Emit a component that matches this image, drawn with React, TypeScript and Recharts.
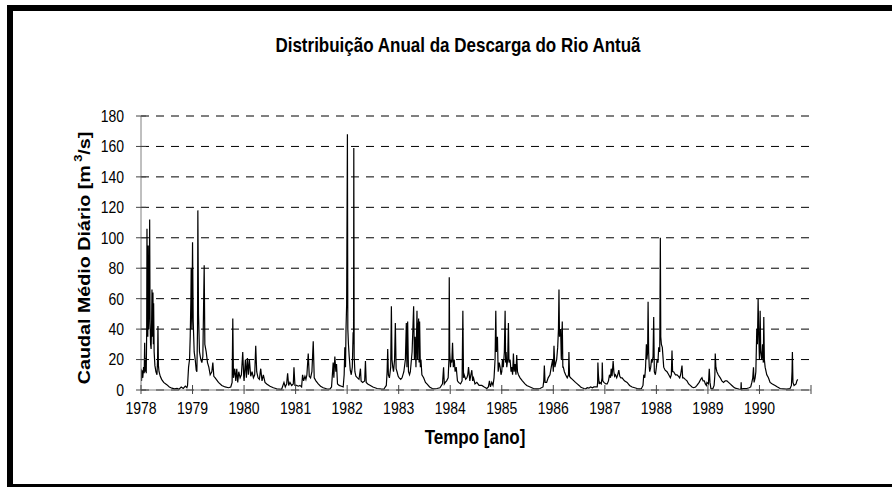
import { LineChart, Line, XAxis, YAxis, CartesianGrid } from 'recharts';

// daily discharge as [year fraction, m3/s]
const y1978 = [
  [1978.0, 14], [1978.01, 6], [1978.02, 13], [1978.035, 8], [1978.05, 15], [1978.062, 11],
  [1978.071, 31], [1978.08, 12], [1978.092, 21], [1978.102, 11], [1978.11, 38], [1978.116, 106],
  [1978.124, 52], [1978.132, 35], [1978.14, 95], [1978.148, 40], [1978.16, 60], [1978.168, 112],
  [1978.176, 45], [1978.186, 30], [1978.196, 27], [1978.206, 45], [1978.213, 66], [1978.222, 35],
  [1978.232, 64], [1978.24, 30], [1978.245, 57], [1978.255, 25], [1978.27, 16], [1978.29, 12],
  [1978.31, 10], [1978.322, 20], [1978.329, 42], [1978.338, 16], [1978.35, 12], [1978.374, 9],
  [1978.4, 7], [1978.44, 5], [1978.5, 3.5], [1978.55, 2], [1978.6, 1.2], [1978.65, 0.8],
  [1978.7, 1], [1978.74, 0.5], [1978.78, 2], [1978.82, 1], [1978.86, 2.5], [1978.89, 1.5],
  [1978.903, 3], [1978.923, 15], [1978.942, 20], [1978.955, 35], [1978.968, 60], [1978.974, 80],
  [1978.987, 40],
];
const y1979 = [
  [1979.0, 97], [1979.013, 45], [1979.032, 25], [1979.052, 20], [1979.071, 13], [1979.084, 12],
  [1979.097, 40], [1979.103, 118], [1979.116, 50], [1979.135, 25], [1979.161, 20], [1979.181, 18],
  [1979.2, 22], [1979.226, 82], [1979.239, 30], [1979.265, 25], [1979.29, 18], [1979.316, 15],
  [1979.342, 10], [1979.374, 12], [1979.394, 18], [1979.413, 9], [1979.439, 8], [1979.503, 5],
  [1979.568, 3], [1979.632, 2], [1979.697, 1.5], [1979.742, 2], [1979.768, 5], [1979.781, 47],
  [1979.794, 8], [1979.819, 14], [1979.839, 6], [1979.858, 14], [1979.877, 5], [1979.897, 12],
  [1979.923, 8], [1979.948, 10], [1979.974, 25], [1979.994, 8],
];
const y1980 = [
  [1980.0, 6], [1980.026, 20], [1980.045, 8], [1980.065, 21], [1980.084, 10], [1980.103, 20],
  [1980.129, 9], [1980.155, 12], [1980.181, 8], [1980.206, 10], [1980.226, 29], [1980.245, 12],
  [1980.271, 8], [1980.297, 7], [1980.323, 14], [1980.348, 6], [1980.374, 10], [1980.406, 5],
  [1980.439, 4], [1980.503, 2.5], [1980.568, 1.5], [1980.632, 0.8], [1980.729, 0.5], [1980.774, 5],
  [1980.8, 2], [1980.826, 4], [1980.845, 11], [1980.865, 3], [1980.89, 5], [1980.923, 3],
  [1980.955, 4], [1980.968, 15], [1980.987, 3],
];
const y1981 = [
  [1981.019, 3], [1981.052, 2.5], [1981.084, 3], [1981.116, 2], [1981.135, 10], [1981.155, 6],
  [1981.181, 9], [1981.2, 7], [1981.219, 10], [1981.245, 24], [1981.265, 9], [1981.29, 8],
  [1981.316, 12], [1981.342, 32], [1981.361, 8], [1981.394, 6], [1981.439, 4], [1981.484, 2.5],
  [1981.535, 1.5], [1981.6, 0.8], [1981.665, 0.6], [1981.697, 2], [1981.729, 18], [1981.742, 8],
  [1981.761, 22], [1981.781, 12], [1981.794, 17], [1981.813, 4], [1981.845, 3], [1981.89, 2.5],
  [1981.923, 2], [1981.942, 10], [1981.955, 28], [1981.968, 15], [1981.978, 40], [1981.99, 56],
];
const y1982 = [
  [1982.005, 168], [1982.013, 40], [1982.025, 30], [1982.04, 22], [1982.06, 13], [1982.08, 10],
  [1982.1, 15], [1982.116, 38], [1982.124, 30], [1982.129, 159], [1982.136, 22], [1982.15, 12],
  [1982.17, 9], [1982.2, 8], [1982.23, 7], [1982.258, 14], [1982.27, 6], [1982.3, 5],
  [1982.34, 6], [1982.355, 19], [1982.37, 5], [1982.4, 4], [1982.45, 3], [1982.5, 2],
  [1982.58, 1], [1982.65, 0.7], [1982.71, 0.5], [1982.76, 3], [1982.775, 12], [1982.787, 27],
  [1982.8, 10], [1982.82, 8], [1982.845, 15], [1982.858, 55], [1982.87, 20], [1982.885, 15],
  [1982.9, 12], [1982.92, 20], [1982.935, 44], [1982.95, 14], [1982.968, 12], [1982.99, 9],
];
const y1983 = [
  [1983.01, 8], [1983.04, 7], [1983.065, 8], [1983.1, 12], [1983.13, 20], [1983.148, 44],
  [1983.16, 15], [1983.174, 45], [1983.19, 12], [1983.21, 10], [1983.226, 12], [1983.26, 25],
  [1983.29, 55], [1983.305, 20], [1983.32, 35], [1983.335, 15], [1983.355, 52], [1983.365, 20],
  [1983.375, 40], [1983.387, 47], [1983.396, 18], [1983.406, 45], [1983.42, 15], [1983.432, 20],
  [1983.45, 10], [1983.484, 8], [1983.52, 5], [1983.548, 4], [1983.6, 2], [1983.65, 1],
  [1983.7, 0.8], [1983.742, 1], [1983.8, 1.5], [1983.85, 4], [1983.871, 15], [1983.885, 4],
  [1983.903, 5], [1983.93, 6], [1983.96, 8], [1983.975, 20], [1983.981, 74], [1983.99, 25],
];
const y1984 = [
  [1984.005, 15], [1984.013, 20], [1984.03, 18], [1984.045, 31], [1984.06, 15], [1984.077, 20],
  [1984.095, 12], [1984.116, 15], [1984.14, 6], [1984.161, 5], [1984.2, 4], [1984.23, 6],
  [1984.245, 52], [1984.258, 8], [1984.271, 10], [1984.3, 7], [1984.323, 8], [1984.34, 10],
  [1984.355, 15], [1984.38, 6], [1984.4, 10], [1984.419, 13], [1984.435, 6], [1984.452, 8],
  [1984.48, 4], [1984.516, 5], [1984.56, 3], [1984.613, 3], [1984.66, 2], [1984.71, 1],
  [1984.74, 2], [1984.761, 6], [1984.78, 2], [1984.806, 5], [1984.83, 3], [1984.85, 8],
  [1984.87, 20], [1984.884, 52], [1984.895, 25], [1984.916, 35], [1984.93, 12], [1984.95, 18],
  [1984.968, 15], [1984.985, 10],
];
const y1985 = [
  [1985.0, 12], [1985.013, 20], [1985.03, 15], [1985.05, 25], [1985.065, 52], [1985.075, 18],
  [1985.085, 25], [1985.097, 15], [1985.115, 20], [1985.129, 44], [1985.14, 18], [1985.161, 20],
  [1985.18, 12], [1985.194, 15], [1985.21, 10], [1985.226, 24], [1985.24, 12], [1985.258, 17],
  [1985.275, 10], [1985.29, 23], [1985.305, 12], [1985.323, 10], [1985.355, 8], [1985.4, 6],
  [1985.45, 4], [1985.484, 3], [1985.55, 2], [1985.613, 1], [1985.68, 0.8], [1985.742, 1],
  [1985.8, 2], [1985.815, 6], [1985.826, 16], [1985.84, 5], [1985.871, 5], [1985.9, 8],
  [1985.935, 10], [1985.96, 15], [1985.987, 20],
];
const y1986 = [
  [1986.0, 12], [1986.013, 29], [1986.03, 15], [1986.05, 18], [1986.065, 20], [1986.085, 28],
  [1986.1, 40], [1986.11, 66], [1986.12, 35], [1986.142, 40], [1986.155, 20], [1986.174, 45],
  [1986.185, 15], [1986.194, 15], [1986.215, 12], [1986.239, 10], [1986.27, 8], [1986.295, 10],
  [1986.303, 25], [1986.315, 9], [1986.335, 8], [1986.37, 7], [1986.4, 6], [1986.43, 5],
  [1986.465, 4], [1986.5, 3], [1986.529, 2], [1986.56, 1.5], [1986.594, 1], [1986.63, 0.8],
  [1986.658, 1.5], [1986.69, 1.2], [1986.723, 2], [1986.76, 1.5], [1986.787, 2], [1986.82, 2],
  [1986.852, 2], [1986.86, 5], [1986.865, 18], [1986.875, 10], [1986.89, 4], [1986.903, 5],
  [1986.93, 4], [1986.945, 8], [1986.95, 18], [1986.96, 6], [1986.981, 5],
];
const y1987 = [
  [1987.02, 4], [1987.045, 4], [1987.07, 6], [1987.09, 10], [1987.11, 8], [1987.123, 14],
  [1987.14, 9], [1987.161, 19], [1987.175, 12], [1987.19, 9], [1987.206, 10], [1987.23, 8],
  [1987.25, 10], [1987.271, 13], [1987.29, 9], [1987.31, 8], [1987.335, 8], [1987.38, 6],
  [1987.432, 5], [1987.48, 3], [1987.529, 2], [1987.58, 1.5], [1987.626, 1], [1987.67, 0.8],
  [1987.71, 1], [1987.74, 3], [1987.755, 10], [1987.775, 8], [1987.79, 15], [1987.806, 30],
  [1987.815, 20], [1987.83, 25], [1987.839, 58], [1987.85, 25], [1987.862, 15], [1987.871, 12],
  [1987.89, 15], [1987.905, 20], [1987.916, 18], [1987.935, 22], [1987.948, 48], [1987.96, 12],
  [1987.981, 10],
];
const y1988 = [
  [1988.0, 15], [1988.013, 20], [1988.03, 18], [1988.045, 28], [1988.065, 25], [1988.077, 100],
  [1988.085, 35], [1988.097, 30], [1988.115, 28], [1988.142, 15], [1988.17, 13], [1988.206, 12],
  [1988.24, 10], [1988.271, 8], [1988.29, 10], [1988.303, 26], [1988.315, 12], [1988.335, 12],
  [1988.37, 10], [1988.4, 10], [1988.43, 9], [1988.452, 8], [1988.47, 10], [1988.497, 16],
  [1988.51, 8], [1988.529, 8], [1988.56, 7], [1988.594, 6], [1988.626, 4], [1988.658, 3],
  [1988.69, 2], [1988.723, 1.5], [1988.76, 2], [1988.787, 3], [1988.83, 5], [1988.86, 7],
  [1988.884, 8], [1988.905, 6], [1988.929, 6], [1988.95, 4], [1988.97, 3], [1988.981, 5],
];
const y1989 = [
  [1989.01, 4], [1989.026, 14], [1989.04, 5], [1989.058, 1], [1989.08, 0.8], [1989.097, 1],
  [1989.12, 3], [1989.135, 10], [1989.142, 24], [1989.155, 15], [1989.174, 12], [1989.2, 10],
  [1989.239, 8], [1989.27, 6], [1989.303, 5], [1989.335, 6], [1989.368, 6], [1989.4, 5],
  [1989.432, 4], [1989.465, 3], [1989.497, 2], [1989.53, 1.2], [1989.561, 1], [1989.6, 0.6],
  [1989.64, 0.4], [1989.645, 5], [1989.65, 0.4], [1989.677, 1], [1989.72, 1], [1989.755, 1],
  [1989.8, 1.5], [1989.83, 2], [1989.852, 5], [1989.87, 8], [1989.884, 15], [1989.895, 5],
  [1989.916, 8], [1989.93, 12], [1989.948, 40], [1989.96, 30], [1989.974, 60], [1989.987, 35],
];
const y1990 = [
  [1990.0, 20], [1990.007, 30], [1990.013, 52], [1990.025, 25], [1990.045, 20], [1990.06, 30],
  [1990.075, 18], [1990.084, 48], [1990.095, 20], [1990.11, 15], [1990.142, 10], [1990.174, 8],
  [1990.206, 5], [1990.25, 4], [1990.303, 3], [1990.35, 2], [1990.4, 1], [1990.46, 0.8],
  [1990.529, 0.6], [1990.594, 1], [1990.62, 3], [1990.632, 12], [1990.639, 25], [1990.65, 5],
  [1990.671, 3], [1990.69, 3.5], [1990.71, 4], [1990.725, 6], [1990.742, 7],
];

const years = [y1978, y1979, y1980, y1981, y1982, y1983, y1984, y1985, y1986, y1987, y1988, y1989, y1990];
const xTicks = [1978, 1979, 1980, 1981, 1982, 1983, 1984, 1985, 1986, 1987, 1988, 1989, 1990, 1991];
const yTicks = [0, 20, 40, 60, 80, 100, 120, 140, 160, 180];
const lastLabelledYear = 1990;

const data = years.flat().map(([t, q]) => ({ t, q }));

const FONT = '"Liberation Sans", Arial, sans-serif';
const STRETCH = 1.16;
const TICK_OFFSET = 8; // tickSize 6 + tickMargin 2

const XTick = (props: any) => {
  const { x, y, payload } = props;
  const axisY = y - TICK_OFFSET;
  return (
    <g>
      <line x1={x} x2={x} y1={axisY - 5} y2={axisY + 4} stroke="#444" />
      {payload.value <= lastLabelledYear && (
        <text
          transform={`translate(${x},${axisY + 18}) scale(1,${STRETCH})`}
          textAnchor="middle"
          dominantBaseline="central"
          fontFamily={FONT}
          fontSize={14}
          fill="#000"
        >
          {payload.value}
        </text>
      )}
    </g>
  );
};

const YTick = (props: any) => {
  const { x, y, payload } = props;
  const axisX = x + TICK_OFFSET;
  return (
    <g>
      <line x1={axisX - 5} x2={axisX + 5} y1={y} y2={y} stroke="#444" />
      <text
        transform={`translate(${axisX - 17},${y}) scale(1,${STRETCH})`}
        textAnchor="end"
        dominantBaseline="central"
        fontFamily={FONT}
        fontSize={14}
        fill="#000"
      >
        {payload.value}
      </text>
    </g>
  );
};

export default function App() {
  return (
    <div style={{ position: 'absolute', left: 0, top: 0, width: 892, height: 487, background: '#fff' }}>
      <LineChart
        width={892}
        height={487}
        data={data}
        margin={{ top: 116, right: 81, bottom: 67, left: 81 }}
      >
        <CartesianGrid horizontal vertical={false} stroke="#000" strokeDasharray="8 7" />
        <XAxis
          dataKey="t"
          type="number"
          domain={[1978, 1991]}
          ticks={xTicks}
          interval={0}
          height={30}
          tickSize={6}
          tickMargin={2}
          tickLine={false}
          axisLine={{ stroke: '#808080' }}
          tick={<XTick />}
          allowDataOverflow
        />
        <YAxis
          type="number"
          domain={[0, 180]}
          ticks={yTicks}
          interval={0}
          width={60}
          tickSize={6}
          tickMargin={2}
          tickLine={false}
          axisLine={{ stroke: '#808080' }}
          tick={<YTick />}
        />
        <Line
          dataKey="q"
          type="linear"
          stroke="#000"
          strokeWidth={1.2}
          dot={false}
          isAnimationActive={false}
        />
      </LineChart>
      <svg
        width={892}
        height={487}
        style={{ position: 'absolute', left: 0, top: 0, pointerEvents: 'none' }}
      >
        <rect x={7} y={5} width={885} height={6} fill="#000" />
        <rect x={7} y={5} width={6} height={482} fill="#000" />
        <rect x={7} y={484} width={885} height={3} fill="#000" />
        <text
          transform={`translate(458,45) scale(1,${STRETCH})`}
          textAnchor="middle"
          dominantBaseline="central"
          fontFamily={FONT}
          fontWeight="bold"
          fontSize={17}
        >
          Distribuição Anual da Descarga do Rio Antuã
        </text>
        <text
          transform={`translate(475,437) scale(1,${STRETCH})`}
          textAnchor="middle"
          dominantBaseline="central"
          fontFamily={FONT}
          fontWeight="bold"
          fontSize={17}
        >
          Tempo [ano]
        </text>
        <text
          transform={`translate(84,258) rotate(-90) scale(${STRETCH},1)`}
          textAnchor="middle"
          dominantBaseline="central"
          fontFamily={FONT}
          fontWeight="bold"
          fontSize={17}
        >
          Caudal Médio Diário [m
          <tspan dx={3} dy={-6} fontSize={11}>3</tspan>
          <tspan dy={6}>/s]</tspan>
        </text>
      </svg>
    </div>
  );
}
